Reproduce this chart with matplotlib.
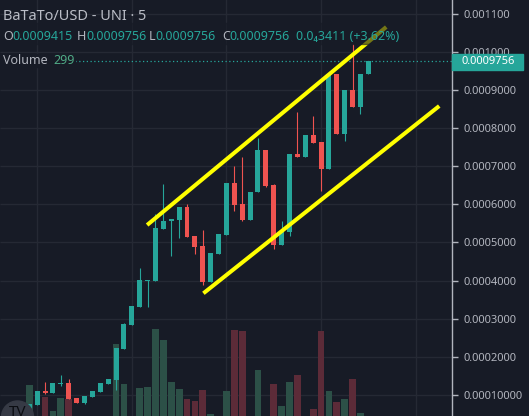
import matplotlib

matplotlib.use("Agg")
import matplotlib.pyplot as plt
import matplotlib.transforms as mtransforms
from matplotlib.patches import Rectangle, Circle
import numpy as np

W, H = 529, 416
BG = "#171b26"
GRID = "#252934"
TEXT = "#b2b5be"
UP = "#26a69a"
DOWN = "#ef5350"
VOL_UP = "#2c5047"
VOL_DOWN = "#5c2b38"
FONT = ["Noto Sans", "DejaVu Sans"]

# prices in units of 1e-4 USD
opens = [0.607, 0.738, 1.105, 1.052, 1.289, 1.315, 0.921, 0.790, 0.948, 1.079, 1.289,
         1.393, 2.206, 2.836, 3.308, 4.000, 4.000, 5.354, 5.564, 5.590, 5.931, 5.170,
         4.908, 3.964, 4.698, 5.196, 6.560, 6.009, 5.590, 6.324, 7.426, 6.508, 4.934,
         5.275, 7.321, 7.242, 7.819, 7.635, 6.927, 9.419, 7.845, 8.999, 8.553, 9.415]
highs = [0.764, 1.105, 1.341, 1.315, 1.524, 1.420, 0.921, 0.974, 1.105, 1.315, 1.420,
         2.233, 2.888, 3.334, 4.331, 4.016, 5.747, 6.534, 5.616, 5.931, 6.009, 5.170,
         5.327, 4.724, 5.222, 6.560, 7.006, 7.242, 6.324, 7.740, 7.426, 6.534, 5.564,
         7.321, 8.422, 7.819, 8.317, 7.635, 9.419, 9.419, 8.999, 10.205, 9.419, 9.756]
lows = [0.607, 0.738, 1.026, 1.052, 1.236, 0.895, 0.790, 0.764, 0.948, 1.079, 1.289,
        1.131, 2.206, 2.836, 3.308, 3.308, 4.000, 5.354, 4.645, 5.118, 5.144, 4.698,
        3.885, 3.964, 4.698, 5.196, 5.826, 5.564, 5.590, 6.324, 6.455, 4.829, 4.934,
        5.170, 7.242, 7.242, 7.609, 6.350, 6.927, 7.845, 7.661, 8.553, 8.369, 9.415]
closes = [0.764, 1.105, 1.052, 1.315, 1.315, 0.895, 0.790, 0.974, 1.105, 1.315, 1.420,
          2.233, 2.862, 3.334, 4.016, 4.016, 5.380, 5.564, 5.616, 5.931, 5.144, 4.882,
          3.964, 4.724, 5.222, 6.560, 5.983, 5.590, 6.324, 7.426, 6.481, 4.934, 5.301,
          7.321, 7.242, 7.819, 7.609, 6.927, 9.419, 7.845, 8.999, 8.553, 9.419, 9.756]
volumes = [31000, 0, 19000, 5000, 18000, 17000, 0, 0, 0, 0, 0, 72000, 32000, 0,
           28000, 29000, 87000, 76000, 34000, 27000, 17000, 15000, 26000, 2000, 0,
           25000, 86000, 85000, 0, 46000, 0, 32000, 10000, 34000, 41000, 0, 7000,
           85000, 25000, 14000, 17000, 37000, 3000, 299]

# channel lines: (bar index, price 1e-4)
upper_line = ([14.94, 45.27], [5.458, 10.651])
lower_line = ([22.08, 51.99], [3.667, 8.579])

price_ticks = [11, 10, 9, 8, 7, 6, 5, 4, 3, 2, 1]
price_tick_labels = ["0.001100", "0.001000", "0.0009000", "0.0008000", "0.0007000",
                     "0.0006000", "0.0005000", "0.0004000", "0.0003000", "0.0002000",
                     "0.00010000"]
last_price = 9.756
SCALE = 1e-4

o = np.array(opens) * SCALE
h = np.array(highs) * SCALE
l = np.array(lows) * SCALE
c = np.array(closes) * SCALE
idx = np.arange(len(o))
up = c >= o

fig = plt.figure(figsize=(W / 100, H / 100), dpi=100, facecolor=BG)
rect = [0, 0, 452 / W, 1]
axv = fig.add_axes(rect, facecolor=BG)
ax = fig.add_axes(rect, sharex=axv)
ax.patch.set_visible(False)

ax.set_xlim(-3.72, 53.61)
ax.set_ylim(0.4494 * SCALE, 11.3593 * SCALE)
axv.set_ylim(0, 416000)

# grid drawn under the volume bars
grid_tr = mtransforms.blended_transform_factory(axv.transAxes, ax.transData)
axv.hlines(np.array(price_ticks) * SCALE, 0, 1, transform=grid_tr, color=GRID, lw=1, zorder=0)
for gx in [1, 13, 25, 37, 49]:
    axv.axvline(gx, color=GRID, lw=1, zorder=0)

axv.bar(idx, volumes, width=0.86, color=np.where(up, VOL_UP, VOL_DOWN), zorder=1)
axv.axis("off")
axv.set_xlim(-3.72, 53.61)

# candles
min_body = SCALE / 38.13
colors = np.where(up, UP, DOWN)
ax.vlines(idx, l, h, color=colors, lw=0.8, zorder=2)
ax.bar(idx, np.maximum(np.abs(c - o), min_body), bottom=np.minimum(o, c),
       width=0.63, color=colors, zorder=3)

ax.plot(upper_line[0], np.array(upper_line[1]) * SCALE, color="#ffff00", lw=2.9,
        solid_capstyle="butt", zorder=4)
ax.plot(lower_line[0], np.array(lower_line[1]) * SCALE, color="#ffff00", lw=2.9,
        solid_capstyle="butt", zorder=4)
ax.axhline(last_price * SCALE, color=UP, lw=0.9, ls=(0, (1, 2)), zorder=1)

ax.yaxis.tick_right()
ax.set_yticks(np.array(price_ticks) * SCALE)
ax.set_yticklabels(price_tick_labels, family=FONT)
ax.tick_params(axis="y", colors=TEXT, length=4, width=1, pad=4, labelsize=8)
ax.tick_params(axis="x", bottom=False, labelbottom=False)
for side in ["top", "left", "bottom"]:
    ax.spines[side].set_visible(False)
ax.spines["right"].set_color(TEXT)
ax.spines["right"].set_linewidth(1)

# last price tag
fig.add_artist(Rectangle((452 / W, 1 - 69.5 / H), 71 / W, 16 / H,
                         transform=fig.transFigure, color=UP, zorder=5))
fig.text(461 / W, 1 - 61.5 / H, "0.0009756", color="white", fontsize=8,
         fontweight="bold", va="center", ha="left", family=FONT, zorder=6)

# legend area
fig.add_artist(Rectangle((0, 1 - 44 / H), 399 / W, 21 / H, transform=fig.transFigure,
                         color=BG, alpha=0.6, zorder=2))
fig.add_artist(Rectangle((0, 1 - 67 / H), 75 / W, 13 / H, transform=fig.transFigure,
                         color=BG, zorder=2))

renderer = fig.canvas.get_renderer()


def put_parts(x_px, y_px, parts, size):
    x = x_px
    for text, color in parts:
        t = fig.text(x / W, 1 - y_px / H, text, color=color, fontsize=size,
                     va="center", ha="left", family=FONT, zorder=4)
        x += t.get_window_extent(renderer).width


fig.text(3 / W, 1 - 16 / H, "BaTaTo/USD - UNI · 5", color="#babdc6", fontsize=10.5,
         va="center", ha="left", family=FONT, zorder=4)
put_parts(3, 37, [("O", TEXT), ("0.0009415", UP)], 9)
put_parts(77, 37, [("H", TEXT), ("0.0009756", UP)], 9)
put_parts(149, 37, [("L", TEXT), ("0.0009756", UP)], 9)
put_parts(222, 37, [("C", TEXT), ("0.0009756", UP)], 9)
put_parts(296, 37, [("0.0₄3411 (+3.62%)", UP)], 9)
put_parts(3, 60, [("Volume", TEXT)], 9)
put_parts(53, 60, [("299", "#4fa985")], 9)

# logo
fig.add_artist(Circle((17.5 / 100, -0.01), 0.16, transform=fig.dpi_scale_trans,
                      color="#363a45", zorder=5))
fig.text(17.5 / W, 1 - 412 / H, "TV", color="#0b0d12", fontsize=11, fontweight="bold",
         va="center", ha="center", family=FONT, zorder=6)

fig.savefig("out.png", dpi=100, facecolor=BG)
